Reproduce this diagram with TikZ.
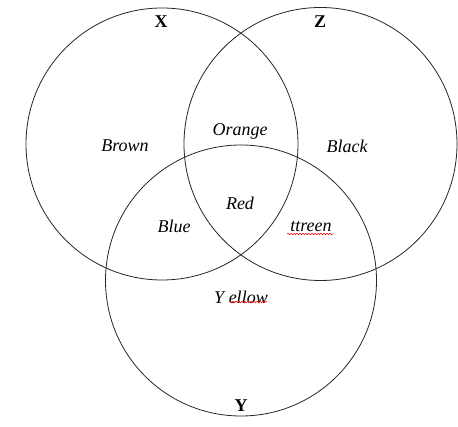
\documentclass[tikz,border=0pt]{standalone}
\usepackage{fontspec}
\setmainfont{Liberation Serif}
\usetikzlibrary{decorations.pathmorphing}
\begin{document}
\begin{tikzpicture}[x=1pt,y=-1pt,
  ring/.style={circle,draw=black!85,line width=0.8pt,inner sep=0pt},
  lbl/.style={font=\fontsize{18}{20}\selectfont\itshape,inner sep=0pt},
  setname/.style={font=\fontsize{18}{20}\selectfont\bfseries,inner sep=0pt},
  squiggle/.style={draw=red,line width=0.5pt,decorate,decoration={snake,amplitude=0.8pt,segment length=3pt}}]
\useasboundingbox (0,0) rectangle (458,427);
\node[ring,minimum size=272pt] (cX) at (162,144) {};
\node[ring,minimum size=273pt] (cZ) at (320.5,144) {};
\node[ring,minimum size=271pt] (cY) at (241,280.5) {};
\node[setname] (tX) at (161,22) {X};
\node[setname] (tZ) at (320,22) {Z};
\node[setname] (tY) at (241,406) {Y};
\node[lbl] (brown) at (125,146) {Brown};
\node[lbl] (orange) at (240,131) {Orange};
\node[lbl] (black) at (347,146) {Black};
\node[lbl] (red) at (240,203) {Red};
\node[lbl] (blue) at (174,226) {Blue};
\node[lbl] (green) at (311,227) {ttreen};
\node[lbl] (yellow) at (241,297) {Y ellow};
\coordinate (g1) at (287,234);
\coordinate (g2) at (333,234);
\coordinate (y1) at (229,302);
\coordinate (y2) at (267,302);
\draw[squiggle] (g1) -- (g2);
\draw[squiggle] (y1) -- (y2);
\end{tikzpicture}
\end{document}
